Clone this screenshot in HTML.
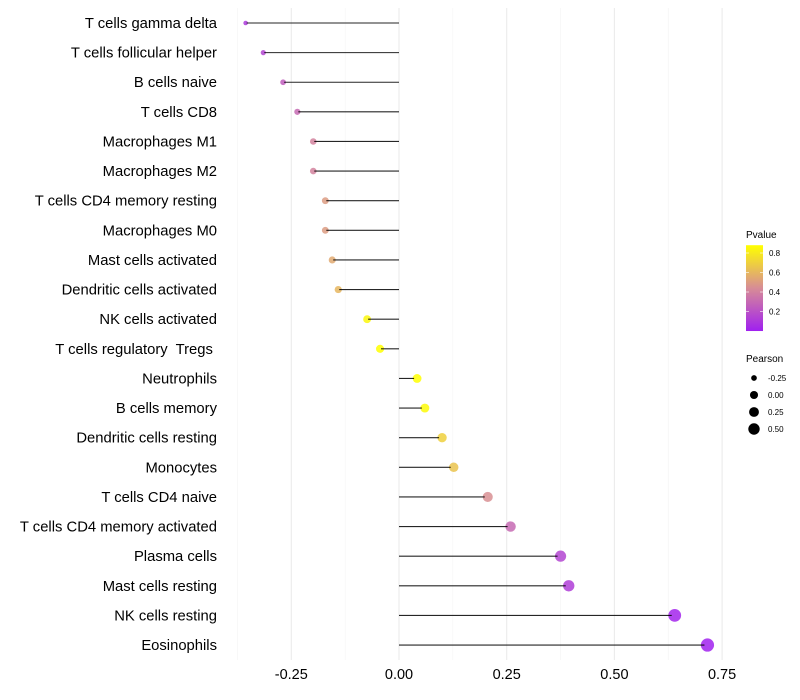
<!DOCTYPE html>
<html><head><meta charset="utf-8"><style>
body{margin:0;background:#fff;}
svg{display:block;font-family:"Liberation Sans",sans-serif;}
text{white-space:pre;}
</style></head><body>
<svg id="chart" width="800" height="700"></svg>
<script>
const categories=["T cells gamma delta","T cells follicular helper","B cells naive","T cells CD8","Macrophages M1","Macrophages M2","T cells CD4 memory resting","Macrophages M0","Mast cells activated","Dendritic cells activated","NK cells activated","T cells regulatory  Tregs ","Neutrophils","B cells memory","Dendritic cells resting","Monocytes","T cells CD4 naive","T cells CD4 memory activated","Plasma cells","Mast cells resting","NK cells resting","Eosinophils"];
const pearson=[-0.356,-0.315,-0.269,-0.236,-0.199,-0.199,-0.171,-0.171,-0.155,-0.141,-0.074,-0.044,0.042,0.060,0.100,0.127,0.206,0.259,0.375,0.394,0.640,0.716];
const pvalues=[0.10,0.15,0.25,0.30,0.40,0.40,0.50,0.50,0.55,0.60,0.85,0.88,0.90,0.86,0.70,0.65,0.45,0.30,0.15,0.12,0.02,0.01];
const xTicks=[-0.25,0,0.25,0.5,0.75];
const xTickLabels=["-0.25","0.00","0.25","0.50","0.75"];
const minorTicks=[-0.375,-0.125,0.125,0.375,0.625];
const pLegend=[0.2,0.4,0.6,0.8];
const sizeLegend=[-0.25,0,0.25,0.5];
const sizeLegendLabels=["-0.25","0.00","0.25","0.50"];

const NS="http://www.w3.org/2000/svg";
const svg=document.getElementById('chart');
function mk(t,a,p){const e=document.createElementNS(NS,t);for(const k in a)e.setAttribute(k,a[k]);(p||svg).appendChild(e);return e;}
const x=v=>399+v*430.8;
const y=i=>23+i*29.62;
const rad=v=>Math.sqrt(Math.max(2.5,18+36*v));
function lerp(a,b,t){return a.map((c,i)=>Math.round(c+(b[i]-c)*t));}
const cLow=[160,32,240],cMid=[215,140,150],cHigh=[255,255,0];
function col(p){const t=Math.min(1,Math.max(0,p/0.88));const c=t<0.5?lerp(cLow,cMid,t/0.5):lerp(cMid,cHigh,(t-0.5)/0.5);return `rgb(${c[0]},${c[1]},${c[2]})`;}

minorTicks.forEach(v=>{const g=mk('line',{x1:x(v),x2:x(v),y1:8,y2:660,stroke:'#f3f3f3','stroke-width':0.6});

});
xTicks.forEach((v,i)=>{const g=mk('line',{x1:x(v),x2:x(v),y1:8,y2:660,stroke:'#ebebeb','stroke-width':1.1});


const t=mk('text',{x:x(v),y:679,'text-anchor':'middle','font-size':14.5,fill:'#000'});t.textContent=xTickLabels[i];

});

categories.forEach((c,i)=>{
const t=mk('text',{x:217,y:y(i)+5,'text-anchor':'end','font-size':14.8,fill:'#000'});t.textContent=c;


const p=mk('circle',{cx:x(pearson[i]),cy:y(i),r:rad(pearson[i]),fill:col(pvalues[i]),'fill-opacity':0.85});


const l=mk('line',{x1:x(0),x2:x(pearson[i])-(pearson[i]>0?3:-1),y1:y(i),y2:y(i),stroke:'#000','stroke-width':1.1,'stroke-opacity':0.85});


});

// Pvalue legend
const lt=mk('text',{x:746,y:238,'font-size':10});lt.textContent='Pvalue';


const defs=mk('defs',{});
const lg=mk('linearGradient',{id:'pg',x1:0,y1:1,x2:0,y2:0},defs);
[0,0.25,0.5,0.75,1].forEach(s=>mk('stop',{offset:s,'stop-color':col(s*0.88)},lg));
const py=p=>331-p*97.5;
const bar=mk('rect',{x:746,y:py(0.88),width:17,height:py(0.01)-py(0.88)+1,fill:'url(#pg)'});


pLegend.forEach(p=>{mk('line',{x1:746,x2:749,y1:py(p),y2:py(p),stroke:'#fff','stroke-width':0.6});mk('line',{x1:760,x2:763,y1:py(p),y2:py(p),stroke:'#fff','stroke-width':0.6});
const t=mk('text',{x:769,y:py(p)+3,'font-size':8});t.textContent=p.toFixed(1);

});

// Pearson legend
const st=mk('text',{x:746,y:362,'font-size':10});st.textContent='Pearson';


sizeLegend.forEach((v,i)=>{const cy=378+i*17;
const c=mk('circle',{cx:754,cy:cy,r:rad(v)*0.95,fill:'#000'});


const t=mk('text',{x:768,y:cy+3,'font-size':8});t.textContent=sizeLegendLabels[i];

});
</script>
</body></html>
